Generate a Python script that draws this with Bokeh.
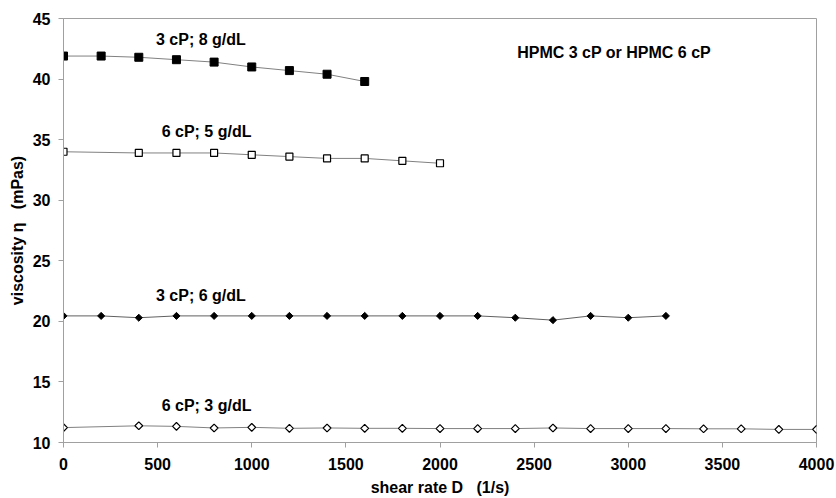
import math
from bokeh.plotting import figure
from bokeh.models import FixedTicker, Range1d, Label
from bokeh.embed import file_html
from bokeh.resources import INLINE

# ---- data ----
x_3cp_8 = [0, 200, 400, 600, 800, 1000, 1200, 1400, 1600]
y_3cp_8 = [41.9, 41.9, 41.8, 41.6, 41.4, 41.0, 40.7, 40.4, 39.8]

x_6cp_5 = [0, 400, 600, 800, 1000, 1200, 1400, 1600, 1800, 2000]
y_6cp_5 = [34.0, 33.9, 33.9, 33.9, 33.75, 33.6, 33.45, 33.45, 33.25, 33.05]

x_3cp_6 = [0, 200, 400, 600, 800, 1000, 1200, 1400, 1600, 1800, 2000, 2200,
           2400, 2600, 2800, 3000, 3200]
y_3cp_6 = [20.45, 20.45, 20.3, 20.45, 20.45, 20.45, 20.45, 20.45, 20.45, 20.45,
           20.45, 20.45, 20.3, 20.1, 20.45, 20.3, 20.45]

x_6cp_3 = [0, 400, 600, 800, 1000, 1200, 1400, 1600, 1800, 2000, 2200, 2400,
           2600, 2800, 3000, 3200, 3400, 3600, 3800, 4000]
y_6cp_3 = [11.23, 11.38, 11.33, 11.2, 11.25, 11.17, 11.2, 11.17, 11.17, 11.15,
           11.15, 11.15, 11.2, 11.15, 11.15, 11.15, 11.13, 11.13, 11.08, 11.08]

series_labels = ["3 cP; 8 g/dL", "6 cP; 5 g/dL", "3 cP; 6 g/dL", "6 cP; 3 g/dL"]
label_x = [730, 760, 730, 760]
label_y = [43.3, 35.65, 22.1, 13.05]
title_text = "HPMC 3 cP or HPMC 6 cP"
title_pos = (2925, 42.2)

x_ticks = [0, 500, 1000, 1500, 2000, 2500, 3000, 3500, 4000]
y_ticks = [10, 15, 20, 25, 30, 35, 40, 45]

FONT = "Liberation Sans"

p = figure(width=836, height=498, output_backend="svg", toolbar_location=None,
           x_range=Range1d(0, 4000), y_range=Range1d(10, 45),
           min_border_left=63, min_border_right=20, min_border_top=18,
           min_border_bottom=55)
p.grid.visible = False
p.outline_line_color = "#a0a0a0"
p.outline_line_width = 1
p.background_fill_color = "white"
p.border_fill_color = "white"

for ax in (p.xaxis[0], p.yaxis[0]):
    ax.axis_line_color = "#a0a0a0"
    ax.major_tick_line_color = "#a0a0a0"
    ax.minor_tick_line_color = None
    ax.major_tick_in = 0
    ax.major_tick_out = 5
    ax.major_label_text_font = FONT
    ax.major_label_text_font_style = "bold"
    ax.major_label_text_font_size = "16px"
    ax.major_label_text_color = "black"
    ax.axis_label_text_font = FONT
    ax.axis_label_text_font_style = "bold"
    ax.axis_label_text_font_size = "16px"
    ax.axis_label_text_color = "black"

p.xaxis.ticker = FixedTicker(ticks=x_ticks)
p.yaxis.ticker = FixedTicker(ticks=y_ticks)
p.xaxis.major_label_standoff = 10
p.yaxis.major_label_standoff = 8
p.xaxis.axis_label = "shear rate D\u00a0\u00a0\u00a0(1/s)"
p.yaxis.axis_label = "viscosity \u03b7\u00a0\u00a0\u00a0(mPas)"
p.xaxis.axis_label_standoff = 6
p.yaxis.axis_label_standoff = 4

LINE = "#808080"
q = math.pi / 4

# 3 cP; 8 g/dL - filled squares
p.line(x_3cp_8, y_3cp_8, line_color=LINE, line_width=1)
p.scatter(x_3cp_8, y_3cp_8, marker="square", size=8, fill_color="black",
          line_color="black")

# 6 cP; 5 g/dL - open squares
p.line(x_6cp_5, y_6cp_5, line_color=LINE, line_width=1)
p.scatter(x_6cp_5, y_6cp_5, marker="square", size=7, fill_color="white",
          line_color="black", line_width=1.2)

# 3 cP; 6 g/dL - filled diamonds
p.line(x_3cp_6, y_3cp_6, line_color="#606060", line_width=1)
p.scatter(x_3cp_6, y_3cp_6, marker="square", size=5, angle=q,
          fill_color="black", line_color="black")

# 6 cP; 3 g/dL - open diamonds
p.line(x_6cp_3, y_6cp_3, line_color=LINE, line_width=1)
p.scatter(x_6cp_3, y_6cp_3, marker="square", size=5.5, angle=q,
          fill_color="white", line_color="black", line_width=1.2)

for t, lx, ly in zip(series_labels, label_x, label_y):
    p.add_layout(Label(x=lx, y=ly, text=t, text_font=FONT,
                       text_font_style="bold", text_font_size="16px",
                       text_align="center", text_baseline="middle",
                       text_color="black"))

p.add_layout(Label(x=title_pos[0], y=title_pos[1], text=title_text,
                   text_font=FONT, text_font_style="bold",
                   text_font_size="16px", text_align="center",
                   text_baseline="middle", text_color="black"))

open("out.html", "w").write(file_html(p, INLINE))
